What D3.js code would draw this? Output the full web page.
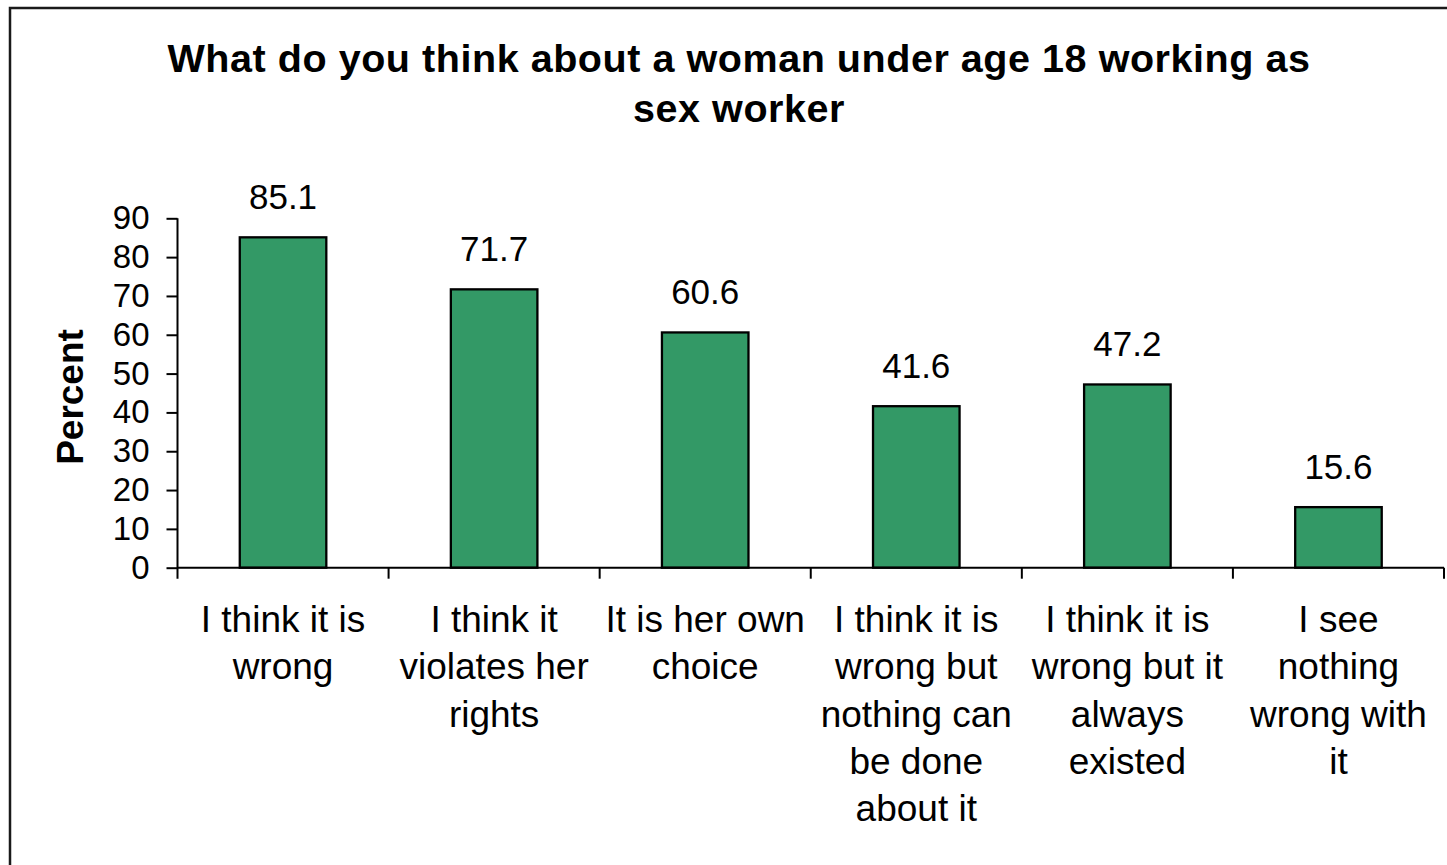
<!DOCTYPE html>
<html>
<head>
<meta charset="utf-8">
<script src="https://cdn.jsdelivr.net/npm/d3@7"></script>
<style>
  html, body { margin: 0; padding: 0; background: #fff; }
  svg { display: block; }
  text { font-family: "Liberation Sans", Arial, sans-serif; fill: #000; }
</style>
</head>
<body>
<svg id="chart" width="1447" height="865"></svg>
<script>
// Response categories (line breaks as they are set under the axis)
const categories = [
  "I think it is\nwrong",
  "I think it\nviolates her\nrights",
  "It is her own\nchoice",
  "I think it is\nwrong but\nnothing can\nbe done\nabout it",
  "I think it is\nwrong but it\nalways\nexisted",
  "I see\nnothing\nwrong with\nit"
];
const percents = [85.1, 71.7, 60.6, 41.6, 47.2, 15.6];
const yTicks = [0, 10, 20, 30, 40, 50, 60, 70, 80, 90];
const titleLines = [
  "What do you think about a woman under age 18 working as",
  "sex worker"
];
const yTitle = "Percent";

const svg = d3.select("#chart");
const W = 1447, H = 865;

// outer frame
svg.append("rect")
  .attr("x", 10).attr("y", 8)
  .attr("width", W + 20).attr("height", H + 20)
  .attr("fill", "#fff")
  .attr("stroke", "#1a1a1a").attr("stroke-width", 2.5);

const plot = { left: 177.5, right: 1444, top: 218.3, bottom: 567.7 };

const x = d3.scaleBand()
  .domain(categories)
  .range([plot.left, plot.right])
  .paddingInner(0.59)
  .paddingOuter(0.295);

const y = d3.scaleLinear()
  .domain([0, 90])
  .range([plot.bottom, plot.top]);

// title
svg.append("text")
  .attr("x", 739).attr("y", 72)
  .attr("text-anchor", "middle")
  .attr("font-weight", "bold")
  .attr("font-size", 39.5)
  .attr("letter-spacing", 0.55)
  .selectAll("tspan")
  .data(titleLines)
  .join("tspan")
  .attr("x", 739)
  .attr("dy", (d, i) => i === 0 ? 0 : 50)
  .text(d => d);

// bars
svg.append("g")
  .selectAll("rect")
  .data(percents)
  .join("rect")
  .attr("x", (d, i) => x(categories[i]))
  .attr("y", d => y(d))
  .attr("width", x.bandwidth())
  .attr("height", d => y(0) - y(d))
  .attr("fill", "#339966")
  .attr("stroke", "#000")
  .attr("stroke-width", 2.3);

// value labels
svg.append("g")
  .selectAll("text")
  .data(percents)
  .join("text")
  .attr("x", (d, i) => x(categories[i]) + x.bandwidth() / 2)
  .attr("y", d => y(d) - 28)
  .attr("text-anchor", "middle")
  .attr("font-size", 35)
  .text(d => d.toFixed(1));

// y axis
const yAxis = svg.append("g")
  .attr("transform", `translate(${plot.left},0)`)
  .call(d3.axisLeft(y).tickValues(yTicks).tickSize(11).tickPadding(17).tickFormat(d3.format("d")));
yAxis.select(".domain").remove();
yAxis.selectAll(".tick line").attr("stroke", "#000").attr("stroke-width", 2);
yAxis.selectAll(".tick text")
  .attr("font-size", 33)
  .attr("font-family", "Liberation Sans, Arial, sans-serif")
  .attr("fill", "#000");
yAxis.append("line")
  .attr("x1", 0).attr("x2", 0)
  .attr("y1", plot.top).attr("y2", plot.bottom + 11)
  .attr("stroke", "#000").attr("stroke-width", 2);

// x axis: baseline with ticks at category boundaries
const boundaries = categories.map(c => x(c) - x.step() * x.paddingInner() / 2)
  .concat([plot.right]);
const xg = svg.append("g");
xg.append("line")
  .attr("x1", plot.left).attr("x2", plot.right)
  .attr("y1", plot.bottom).attr("y2", plot.bottom)
  .attr("stroke", "#000").attr("stroke-width", 2);
xg.selectAll("line.tick")
  .data(boundaries.slice(1))
  .join("line")
  .attr("class", "tick")
  .attr("x1", d => d).attr("x2", d => d)
  .attr("y1", plot.bottom).attr("y2", plot.bottom + 11)
  .attr("stroke", "#000").attr("stroke-width", 2);

// category labels
xg.selectAll("text")
  .data(categories)
  .join("text")
  .attr("text-anchor", "middle")
  .attr("font-size", 37)
  .attr("y", 632)
  .each(function (c) {
    const cx = x(c) + x.bandwidth() / 2;
    d3.select(this).selectAll("tspan")
      .data(c.split("\n"))
      .join("tspan")
      .attr("x", cx)
      .attr("dy", (d, i) => i === 0 ? 0 : 47.3)
      .text(d => d);
  });

// y axis title
svg.append("text")
  .attr("transform", "translate(83,397) rotate(-90)")
  .attr("text-anchor", "middle")
  .attr("font-weight", "bold")
  .attr("font-size", 37)
  .text(yTitle);
</script>
</body>
</html>
